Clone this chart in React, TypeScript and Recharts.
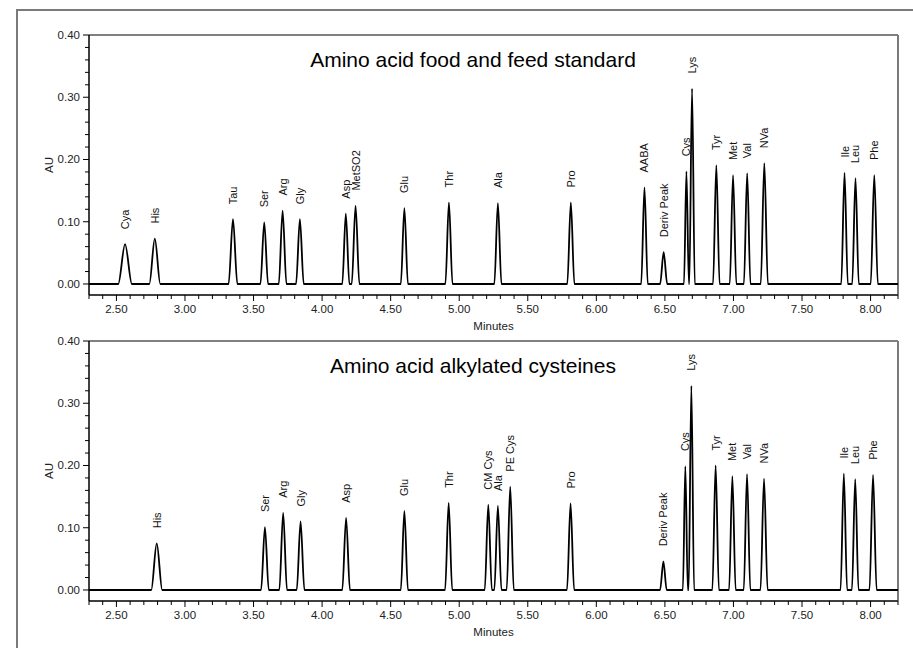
import React from 'react';
import {
  LineChart,
  Line,
  XAxis,
  YAxis,
  ReferenceArea,
  ReferenceLine,
} from 'recharts';

// Peak table: food and feed standard
const foodNames = ['Cya', 'His', 'Tau', 'Ser', 'Arg', 'Gly', 'Asp', 'MetSO2', 'Glu', 'Thr', 'Ala', 'Pro', 'AABA', 'Deriv Peak', 'Cys', 'Lys', 'Tyr', 'Met', 'Val', 'NVa', 'Ile', 'Leu', 'Phe'];
const foodTimes = [2.563, 2.78, 3.35, 3.578, 3.712, 3.838, 4.173, 4.244, 4.6, 4.925, 5.282, 5.814, 6.351, 6.491, 6.657, 6.698, 6.875, 6.997, 7.1, 7.225, 7.81, 7.89, 8.027];
const foodHeights = [0.064, 0.073, 0.104, 0.099, 0.118, 0.104, 0.113, 0.126, 0.122, 0.131, 0.13, 0.131, 0.155, 0.051, 0.181, 0.314, 0.191, 0.175, 0.178, 0.194, 0.179, 0.17, 0.175];
const foodWidths = [0.05, 0.04, 0.032, 0.028, 0.028, 0.028, 0.026, 0.028, 0.026, 0.026, 0.026, 0.026, 0.024, 0.026, 0.018, 0.02, 0.024, 0.024, 0.024, 0.026, 0.024, 0.024, 0.026];

// Peak table: alkylated cysteines
const alkNames = ['His', 'Ser', 'Arg', 'Gly', 'Asp', 'Glu', 'Thr', 'CM Cys', 'Ala', 'PE Cys', 'Pro', 'Deriv Peak', 'Cys', 'Lys', 'Tyr', 'Met', 'Val', 'NVa', 'Ile', 'Leu', 'Phe'];
const alkTimes = [2.794, 3.583, 3.716, 3.843, 4.175, 4.6, 4.923, 5.212, 5.282, 5.372, 5.812, 6.489, 6.649, 6.693, 6.87, 6.992, 7.099, 7.223, 7.805, 7.888, 8.018];
const alkHeights = [0.075, 0.101, 0.124, 0.11, 0.116, 0.127, 0.14, 0.137, 0.135, 0.166, 0.139, 0.046, 0.199, 0.328, 0.2, 0.183, 0.186, 0.179, 0.187, 0.178, 0.185];
const alkWidths = [0.04, 0.028, 0.028, 0.028, 0.028, 0.026, 0.026, 0.026, 0.026, 0.026, 0.026, 0.024, 0.018, 0.02, 0.024, 0.024, 0.024, 0.026, 0.024, 0.024, 0.026];

// axes
const runStart = 2.3;
const runEnd = 8.2;
const auMin = -0.0177;
const auMajor = [0, 0.1, 0.2, 0.3, 0.4];
const minuteMajor = [2.5, 3, 3.5, 4, 4.5, 5, 5.5, 6, 6.5, 7, 7.5, 8];

const auTicks: number[] = [];
for (let i = 0; i <= 20; i++) auTicks.push(+(i * 0.02).toFixed(2));
const minuteTicks: number[] = [];
for (let i = 23; i <= 82; i++) minuteTicks.push(+(i / 10).toFixed(1));

const FONT = '"Liberation Sans", Arial, sans-serif';
const W = 913;
const H = 335;

const isMajor = (v: number, list: number[]) => list.some((m) => Math.abs(m - v) < 1e-6);

// baseline -> apex -> baseline for each peak, drawn with a monotone curve
const buildTrace = (names: string[], times: number[], heights: number[], widths: number[]) => {
  const pts: { t: number; au: number; name?: string }[] = [{ t: runStart, au: 0 }];
  names.forEach((name, i) => {
    pts.push({ t: times[i] - widths[i], au: 0 });
    pts.push({ t: times[i], au: heights[i], name });
    pts.push({ t: times[i] + widths[i], au: 0 });
  });
  pts.push({ t: runEnd, au: 0 });
  return pts;
};

const YTick = (props: any) => {
  const { x, y, payload } = props;
  const major = isMajor(payload.value, auMajor);
  return (
    <g>
      <line x1={x - (major ? 6 : 4)} x2={x} y1={y} y2={y} stroke="#000" />
      {major && (
        <text x={x - 9} y={y} textAnchor="end" dominantBaseline="central" fontSize={11.5} fill="#222" fontFamily={FONT}>
          {payload.value.toFixed(2)}
        </text>
      )}
    </g>
  );
};

const XTick = (props: any) => {
  const { x, y, payload } = props;
  const major = isMajor(payload.value, minuteMajor);
  return (
    <g>
      <line x1={x} x2={x} y1={y} y2={y + (major ? 6 : 4)} stroke="#000" />
      {major && (
        <text x={x} y={y + 14} textAnchor="middle" dominantBaseline="central" fontSize={11.5} fill="#222" fontFamily={FONT}>
          {payload.value.toFixed(2)}
        </text>
      )}
    </g>
  );
};

const PeakLabel = (props: any) => {
  const { cx, cy, payload, index } = props;
  if (!payload || !payload.name) return <g key={`p${index}`} />;
  const ly = cy - 15;
  return (
    <text
      key={`p${index}`}
      x={cx}
      y={ly}
      transform={`rotate(-90 ${cx} ${ly})`}
      textAnchor="start"
      dominantBaseline="central"
      fontSize={11}
      fill="#111"
      fontFamily={FONT}
    >
      {payload.name}
    </text>
  );
};

const AuLabel = (props: any) => {
  const vb = props.viewBox || { x: 29, y: 35, width: 60, height: 260 };
  const x = vb.x + 20;
  const y = vb.y + vb.height / 2;
  return (
    <text x={x} y={y} transform={`rotate(-90 ${x} ${y})`} textAnchor="middle" dominantBaseline="central" fontSize={11.5} fill="#222" fontFamily={FONT}>
      AU
    </text>
  );
};

const Chromatogram = ({ data, title, top }: { data: any[]; title: string; top: number }) => (
  <div style={{ position: 'absolute', left: 0, top, width: W, height: H }}>
    <LineChart width={W} height={H} data={data} margin={{ top: 35, right: 15, bottom: 0, left: 29 }}>
      <XAxis
        dataKey="t"
        type="number"
        domain={[runStart, runEnd]}
        allowDataOverflow
        ticks={minuteTicks}
        interval={0}
        tick={<XTick />}
        tickLine={false}
        tickSize={0}
        tickMargin={0}
        height={40}
        stroke="#000"
        label={{ value: 'Minutes', position: 'insideBottom', offset: 5, fontSize: 11.5, fill: '#222', fontFamily: FONT }}
      />
      <YAxis
        type="number"
        domain={[auMin, 0.4]}
        allowDataOverflow
        ticks={auTicks}
        interval={0}
        tick={<YTick />}
        tickLine={false}
        tickSize={0}
        tickMargin={0}
        width={60}
        stroke="#000"
        label={<AuLabel />}
      />
      <ReferenceArea x1={runStart} x2={runEnd} y1={auMin} y2={0.4} fill="none" stroke="#000" strokeWidth={1} ifOverflow="visible" />
      <ReferenceLine x={runEnd} stroke="#7a7a7a" strokeWidth={2} ifOverflow="visible" />
      <Line
        type="monotone"
        dataKey="au"
        stroke="#000"
        strokeWidth={1.8}
        dot={(p: any) => <PeakLabel {...p} />}
        activeDot={false}
        isAnimationActive={false}
      />
    </LineChart>
    <div
      style={{
        position: 'absolute',
        left: 273,
        top: 49,
        width: 400,
        textAlign: 'center',
        fontFamily: FONT,
        fontSize: 21,
        lineHeight: '21px',
        color: '#000',
        whiteSpace: 'nowrap',
      }}
    >
      {title}
    </div>
  </div>
);

export default function App() {
  const food = buildTrace(foodNames, foodTimes, foodHeights, foodWidths);
  const alk = buildTrace(alkNames, alkTimes, alkHeights, alkWidths);
  return (
    <div style={{ position: 'absolute', left: 0, top: 0, width: W, height: 648, background: '#fff', overflow: 'hidden' }}>
      <div
        style={{
          position: 'absolute',
          left: 16,
          top: 9,
          width: 910,
          height: 660,
          borderTop: '2px solid #7a7a7a',
          borderLeft: '2px solid #7a7a7a',
        }}
      />
      <Chromatogram data={food} title="Amino acid food and feed standard" top={0} />
      <Chromatogram data={alk} title="Amino acid alkylated cysteines" top={306} />
    </div>
  );
}
